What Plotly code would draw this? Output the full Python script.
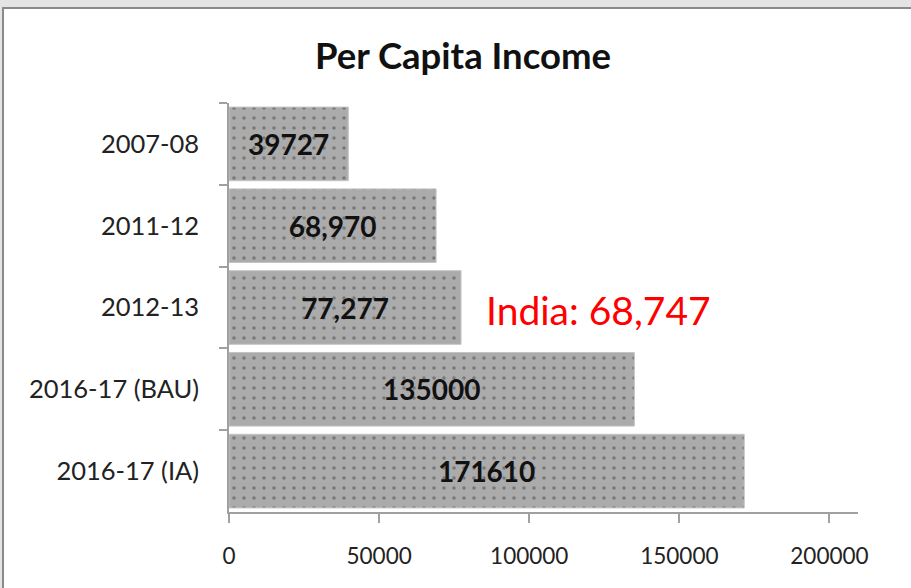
import plotly.graph_objects as go

categories = ["2007-08", "2011-12", "2012-13", "2016-17 (BAU)", "2016-17 (IA)"]
values = [39727, 68970, 77277, 135000, 171610]
labels = ["39727", "68,970", "77,277", "135000", "171610"]
x_ticks = [0, 50000, 100000, 150000, 200000]

W, H = 911, 588
L, R, T, B = 229, 858, 103, 512

def px(x):
    return (x - L) / (R - L)

def py(y):
    return 1 - (y - T) / (B - T)

FONT = "Lato, Open Sans, sans-serif"

fig = go.Figure()
fig.add_trace(go.Bar(
    y=categories, x=values, orientation="h",
    text=labels, textposition="inside", insidetextanchor="middle",
    textangle=0,
    textfont=dict(family=FONT, size=28, color="#111111", weight="bold"),
    marker=dict(
        color="#ababab",
        line=dict(color="#c4c4c4", width=1),
        pattern=dict(shape=".", fgcolor="#444444", bgcolor="#ababab", size=10, solidity=0.1),
    ),
    width=0.9,
    hoverinfo="skip",
))

fig.update_layout(
    width=W, height=H,
    margin=dict(l=L, r=W - R, t=T, b=H - B, autoexpand=False),
    paper_bgcolor="#e4e4e4",
    plot_bgcolor="rgba(0,0,0,0)",
    showlegend=False,
    title=dict(text="<b>Per Capita Income</b>", x=463 / W, xanchor="center",
               y=1 - 56 / H, yanchor="middle",
               font=dict(family=FONT, size=36.5, color="#111111")),
    xaxis=dict(range=[0, 209500], tickvals=x_ticks, ticktext=[str(v) for v in x_ticks],
               showgrid=False, zeroline=False, showline=True, linecolor="#a0a0a0", linewidth=1.5,
               ticks="outside", ticklen=9, tickcolor="#a0a0a0", tickwidth=1.5,
               ticklabelstandoff=14,
               tickfont=dict(family=FONT, size=22.5, color="#222222")),
    yaxis=dict(type="category", categoryorder="array", categoryarray=categories, autorange="reversed",
               showgrid=False, zeroline=False, showline=True, linecolor="#a0a0a0", linewidth=1.5,
               ticks="outside", ticklen=8, tickcolor="#a0a0a0", tickwidth=1.5, tickson="boundaries",
               ticklabelstandoff=23,
               tickfont=dict(family=FONT, size=25.5, color="#222222")),
    shapes=[
        dict(type="rect", xref="paper", yref="paper", layer="below",
             x0=px(3), x1=px(925), y0=py(8), y1=py(610),
             fillcolor="white", line=dict(color="#8a8a8a", width=2)),
    ],
    annotations=[
        dict(text="India: 68,747", xref="paper", yref="paper", x=px(484), y=py(310),
             xanchor="left", yanchor="middle", showarrow=False,
             font=dict(family=FONT, size=39, color="#ff0000")),
    ],
)

fig.write_html("out.html", config={"displayModeBar": False},
               post_script="document.body.style.margin='0';")
